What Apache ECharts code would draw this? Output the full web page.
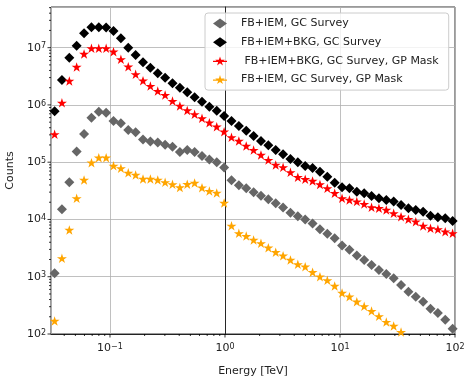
<!DOCTYPE html>
<html>
<head>
    <meta charset="utf-8">
    <title>Counts vs Energy</title>
    <script src="https://cdn.jsdelivr.net/npm/echarts@6/dist/echarts.min.js"></script>
    <style>
        html, body { margin: 0; padding: 0; background: #fff; }
        #main { width: 464px; height: 378px; }
    </style>
</head>
<body>
    <div id="main"></div>
    <script>
        // energy bin centres [TeV]
        const energy = [0.0330, 0.0382, 0.0443, 0.0513, 0.0595, 0.0690, 0.0799, 0.0926, 0.1073, 0.1244,
            0.1442, 0.1671, 0.1937, 0.2245, 0.2602, 0.3016, 0.3496, 0.4052, 0.4696, 0.5443,
            0.6310, 0.7312, 0.8475, 0.9824, 1.139, 1.320, 1.530, 1.773, 2.055, 2.382,
            2.761, 3.200, 3.709, 4.299, 4.983, 5.775, 6.694, 7.759, 8.993, 10.42,
            12.08, 14.00, 16.23, 18.81, 21.80, 25.27, 29.29, 33.95, 39.35, 45.60,
            52.84, 61.25, 71.00, 82.27, 95.37];

        const fbIem = [1.15e3, 1.51e4, 4.46e4, 1.53e5, 3.11e5, 6.0e5, 7.63e5, 7.33e5, 5.25e5, 4.79e5,
            3.66e5, 3.33e5, 2.49e5, 2.3e5, 2.21e5, 2.02e5, 1.87e5, 1.5e5, 1.63e5, 1.5e5,
            1.28e5, 1.12e5, 1.0e5, 8.09e4, 4.83e4, 3.95e4, 3.52e4, 2.98e4, 2.6e4, 2.26e4,
            1.92e4, 1.61e4, 1.31e4, 1.14e4, 1.0e4, 8.51e3, 6.74e3, 5.65e3, 4.69e3, 3.52e3,
            2.97e3, 2.35e3, 1.96e3, 1.6e3, 1.31e3, 1.12e3, 940, 718, 548, 448,
            366, 277, 233, 178, 123];

        const fbIemBkg = [7.75e5, 2.73e6, 6.69e6, 1.08e7, 1.78e7, 2.27e7, 2.27e7, 2.24e7, 1.96e7, 1.46e7,
            1.0e7, 7.46e6, 5.56e6, 4.48e6, 3.57e6, 2.99e6, 2.39e6, 2.0e6, 1.66e6, 1.36e6,
            1.14e6, 9.33e5, 7.94e5, 6.41e5, 5.25e5, 4.29e5, 3.55e5, 2.87e5, 2.35e5, 1.98e5,
            1.63e5, 1.37e5, 1.14e5, 9.97e4, 8.6e4, 7.93e4, 6.82e4, 5.58e4, 4.39e4, 3.65e4,
            3.5e4, 3.06e4, 2.87e4, 2.57e4, 2.34e4, 2.19e4, 2.05e4, 1.79e4, 1.57e4, 1.47e4,
            1.37e4, 1.16e4, 1.09e4, 1.05e4, 9.4e3];

        const fbIemBkgMask = [3.07e5, 1.09e6, 2.62e6, 4.6e6, 7.76e6, 9.76e6, 9.76e6, 9.76e6, 8.5e6, 6.27e6,
            4.66e6, 3.43e6, 2.65e6, 2.14e6, 1.75e6, 1.49e6, 1.17e6, 9.59e5, 8.0e5, 6.87e5,
            5.85e5, 4.9e5, 4.17e5, 3.41e5, 2.72e5, 2.35e5, 1.92e5, 1.63e5, 1.34e5, 1.09e5,
            8.94e4, 8.15e4, 6.67e4, 5.46e4, 5.04e4, 4.7e4, 4.08e4, 3.5e4, 2.87e4, 2.34e4,
            2.19e4, 2.05e4, 1.86e4, 1.63e4, 1.57e4, 1.47e4, 1.28e4, 1.12e4, 1.01e4, 9.15e3,
            7.69e3, 7.01e3, 6.74e3, 6.12e3, 5.74e3];

        const fbIemMask = [169, 2.1e3, 6.55e3, 2.34e4, 4.9e4, 9.82e4, 1.2e5, 1.2e5, 8.65e4, 7.83e4,
            6.53e4, 5.98e4, 5.09e4, 5.09e4, 4.9e4, 4.46e4, 4.11e4, 3.62e4, 4.13e4, 4.34e4,
            3.59e4, 3.14e4, 2.9e4, 1.94e4, 7.76e3, 5.74e3, 5.14e3, 4.38e3, 3.84e3, 3.22e3,
            2.68e3, 2.33e3, 1.96e3, 1.65e3, 1.5e3, 1.2e3, 1.0e3, 867, 689, 520,
            448, 366, 305, 252, 204, 162, 138, 108];

        const seriesNames = ['FB+IEM, GC Survey', 'FB+IEM+BKG, GC Survey',
            ' FB+IEM+BKG, GC Survey, GP Mask', 'FB+IEM, GC Survey, GP Mask'];

        // decade exponents used for tick labels
        const xTicks = [-1, 0, 1, 2];
        const yTicks = [2, 3, 4, 5, 6, 7];

        // axis limits in log10 units
        const XMIN = -1.513, XMAX = 2;
        const YMIN = 2, YMAX = 7.71;

        const STAR = 'path://M0,-5L1.123,-1.545L4.755,-1.545L1.817,0.59L2.939,4.045L0,1.91L-2.939,4.045L-1.817,0.59L-4.755,-1.545L-1.123,-1.545Z';
        const STAR_LINE = STAR + 'M-7,-0.6L7,-0.6L7,0.6L-7,0.6Z';

        const toLog = vals => vals.map((v, i) => [Math.log10(energy[i]), Math.log10(v)]);

        // minor tick positions (2..9 x 10^k)
        function minorTicks(lo, hi) {
            const out = [];
            for (let d = Math.floor(lo); d <= Math.ceil(hi); d++) {
                for (let k = 2; k <= 9; k++) {
                    const v = d + Math.log10(k);
                    if (v > lo && v < hi) out.push(v);
                }
            }
            return out;
        }

        function tickSeries(values, dir, len) {
            return {
                type: 'custom',
                silent: true,
                clip: false,
                z: 5,
                data: values.map(v => dir === 'x' ? [v, YMIN] : [XMIN, v]),
                renderItem: function (params, api) {
                    const p = api.coord([api.value(0), api.value(1)]);
                    const shape = dir === 'x'
                        ? { x1: p[0], y1: p[1], x2: p[0], y2: p[1] + len }
                        : { x1: p[0] - len, y1: p[1], x2: p[0], y2: p[1] };
                    return { type: 'line', shape: shape, style: { stroke: '#000', lineWidth: 0.8 } };
                }
            };
        }

        const supLabel = v => {
            if (Math.abs(v - Math.round(v)) > 1e-6) return '';
            const n = Math.round(v);
            return '10{sup|' + (n < 0 ? '\u2212' + (-n) : n) + '}';
        };

        const labelStyle = {
            color: '#222',
            fontFamily: 'DejaVu Sans',
            fontSize: 11,
            rich: {
                sup: { fontSize: 8, fontFamily: 'DejaVu Sans', color: '#222', verticalAlign: 'top', lineHeight: 8 }
            }
        };

        const chart = echarts.init(document.getElementById('main'), null, { renderer: 'canvas' });

        chart.setOption({
            animation: false,
            backgroundColor: '#fff',
            textStyle: { fontFamily: 'DejaVu Sans' },
            grid: {
                left: 51, right: 9, top: 7, bottom: 44,
                show: true, borderColor: '#000', borderWidth: 0.8,
                outerBoundsMode: 'none'
            },
            legend: {
                orient: 'vertical',
                left: 205, top: 13,
                padding: [5, 10, 5, 8],
                itemWidth: 14, itemHeight: 10, itemGap: 7.7,
                backgroundColor: 'rgba(255,255,255,0.8)',
                borderColor: '#cccccc', borderWidth: 1, borderRadius: 3,
                textStyle: { fontFamily: 'DejaVu Sans', fontSize: 11, color: '#222', padding: [0, 0, 0, 9] },
                data: [
                    { name: seriesNames[0], icon: 'diamond' },
                    { name: seriesNames[1], icon: 'diamond' },
                    { name: seriesNames[2], icon: STAR_LINE },
                    { name: seriesNames[3], icon: STAR_LINE }
                ]
            },
            xAxis: {
                type: 'value',
                min: XMIN, max: XMAX,
                name: 'Energy [TeV]',
                nameLocation: 'middle',
                nameGap: 32,
                nameTextStyle: { fontFamily: 'DejaVu Sans', fontSize: 11, color: '#222' },
                axisLine: { show: true, lineStyle: { color: '#000', width: 0.8 } },
                axisTick: { show: false },
                axisLabel: Object.assign({ margin: 9, formatter: supLabel, customValues: xTicks }, labelStyle),
                splitLine: { show: true, lineStyle: { color: '#b0b0b0', width: 0.8 } }
            },
            yAxis: {
                type: 'value',
                min: YMIN, max: YMAX, interval: 1,
                name: 'Counts',
                nameLocation: 'middle',
                nameGap: 32,
                nameTextStyle: { fontFamily: 'DejaVu Sans', fontSize: 11, color: '#222' },
                axisLine: { show: true, lineStyle: { color: '#000', width: 0.8 } },
                axisTick: { show: false },
                axisLabel: Object.assign({ margin: 5, formatter: supLabel, customValues: yTicks }, labelStyle),
                splitLine: { show: true, lineStyle: { color: '#b0b0b0', width: 0.8 } }
            },
            series: [
                {
                    name: seriesNames[0], type: 'scatter', data: toLog(fbIem),
                    symbol: 'diamond', symbolSize: 10, symbolKeepAspect: true,
                    itemStyle: { color: '#666666', opacity: 1 }
                },
                {
                    name: seriesNames[1], type: 'scatter', data: toLog(fbIemBkg),
                    symbol: 'diamond', symbolSize: 10, symbolKeepAspect: true,
                    itemStyle: { color: '#000000', opacity: 1 }
                },
                {
                    name: seriesNames[2], type: 'scatter', data: toLog(fbIemBkgMask),
                    symbol: STAR, symbolSize: 10, symbolKeepAspect: true,
                    itemStyle: { color: '#ff0000', opacity: 1 }
                },
                {
                    name: seriesNames[3], type: 'scatter', data: toLog(fbIemMask),
                    symbol: STAR, symbolSize: 10, symbolKeepAspect: true,
                    itemStyle: { color: '#ffa500', opacity: 1 }
                },
                tickSeries(xTicks, 'x', 3.5),
                tickSeries(yTicks, 'y', 3.5),
                tickSeries(minorTicks(XMIN, XMAX), 'x', 2),
                tickSeries(minorTicks(YMIN, YMAX), 'y', 2)
            ]
        });
    </script>
</body>
</html>
